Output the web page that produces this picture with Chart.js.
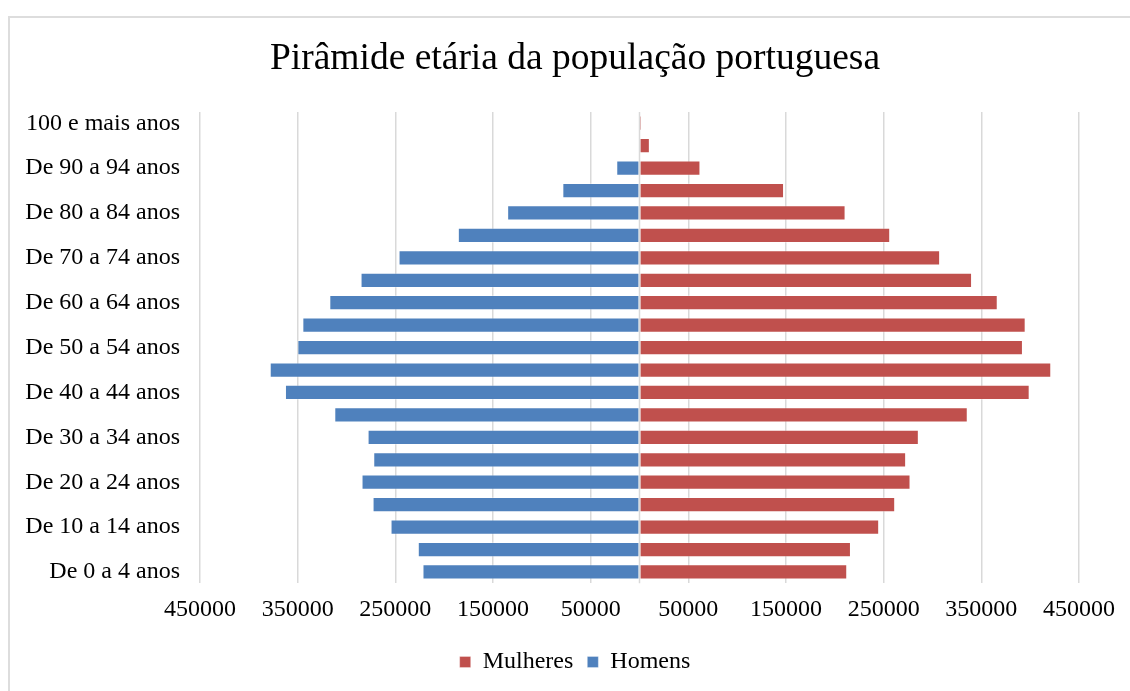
<!DOCTYPE html>
<html>
<head>
<meta charset="utf-8">
<title>Pirâmide etária</title>
<script src="https://cdn.jsdelivr.net/npm/chart.js@4/dist/chart.umd.min.js"></script>
<style>
  html, body { margin: 0; padding: 0; background: #fff; }
  #wrap { position: relative; width: 1130px; height: 691px; overflow: hidden; }
  #frame { position: absolute; left: 8px; top: 16px; width: 1200px; height: 800px;
           border-left: 2px solid #dddddd; border-top: 2px solid #dddddd; pointer-events: none; }
</style>
</head>
<body>
<div id="wrap">
  <canvas id="chart" width="1130" height="691"></canvas>
  <div id="frame"></div>
</div>
<script>
// age groups, bottom to top
const ages = [
  'De 0 a 4 anos', 'De 5 a 9 anos', 'De 10 a 14 anos', 'De 15 a 19 anos',
  'De 20 a 24 anos', 'De 25 a 29 anos', 'De 30 a 34 anos', 'De 35 a 39 anos',
  'De 40 a 44 anos', 'De 45 a 49 anos', 'De 50 a 54 anos', 'De 55 a 59 anos',
  'De 60 a 64 anos', 'De 65 a 69 anos', 'De 70 a 74 anos', 'De 75 a 79 anos',
  'De 80 a 84 anos', 'De 85 a 89 anos', 'De 90 a 94 anos', 'De 95 a 99 anos',
  '100 e mais anos'
];

const mulheres = [
  212700, 216500, 245400, 261800, 277500, 273000, 286000, 336100,
  399500, 421600, 392600, 395400, 366800, 340500, 307800, 256700,
  211000, 148000, 62400, 10600, 2500
];

// men are drawn to the left, so stored as negative values
const homens = [
  -222200, -227000, -254900, -273300, -284600, -272600, -278400, -312500,
  -363000, -378600, -350300, -345200, -317600, -285600, -246700, -186000,
  -135500, -79000, -23800, -1200, -300
];

const xMin = -450000;
const xMax = 450000;
const xStep = 100000;

const serif = 'Liberation Serif, Times New Roman, serif';

// light vertical line at zero (category axis)
const zeroLine = {
  id: 'zeroLine',
  afterDatasetsDraw(chart)
  {
    const x = chart.scales.x.getPixelForValue(0);
    const a = chart.chartArea;
    const ctx = chart.ctx;
    ctx.save();
    ctx.strokeStyle = '#d9d9d9';
    ctx.lineWidth = 1.5;
    ctx.beginPath();
    ctx.moveTo(x, a.top);
    ctx.lineTo(x, a.bottom);
    ctx.stroke();
    ctx.restore();
  }
};

new Chart(document.getElementById('chart'),
{
  type: 'bar',
  data:
  {
    labels: ages,
    datasets:
    [
      {label: 'Mulheres', data: mulheres, backgroundColor: '#c0504d', borderColor: 'rgba(255,255,255,0.3)', borderWidth: 1, borderSkipped: false},
      {label: 'Homens', data: homens, backgroundColor: '#4f81bd', borderColor: 'rgba(255,255,255,0.3)', borderWidth: 1, borderSkipped: false}
    ]
  },
  options:
  {
    indexAxis: 'y',
    responsive: false,
    animation: false,
    devicePixelRatio: 1,
    barPercentage: 0.68,
    categoryPercentage: 1.0,
    layout: {padding: {left: 20, right: 0, top: 16, bottom: 7}},
    scales:
    {
      x:
      {
        stacked: true,
        min: xMin,
        max: xMax,
        ticks:
        {
          stepSize: xStep,
          padding: 12,
          color: '#000',
          font: {family: serif, size: 24},
          maxRotation: 0,
          callback: (v) => String(Math.abs(v))
        },
        grid: {color: '#d9d9d9', lineWidth: 1.5, drawTicks: false},
        border: {display: false}
      },
      y:
      {
        stacked: true,
        reverse: true,
        afterFit: (scale) => { scale.width = 180; },
        ticks:
        {
          autoSkip: false,
          padding: 20,
          color: '#000',
          font: {family: serif, size: 24},
          callback: function(v, i) { return i % 2 == 0 ? this.getLabelForValue(v) : ''; }
        },
        grid: {display: false, drawTicks: false},
        border: {display: false}
      },
      // empty right margin, keeps the title and legend centred like the original
      yRight:
      {
        type: 'category',
        position: 'right',
        afterFit: (scale) => { scale.width = 51; },
        ticks: {display: false},
        grid: {display: false, drawTicks: false},
        border: {display: false}
      }
    },
    plugins:
    {
      title:
      {
        display: true,
        text: 'Pirâmide etária da população portuguesa',
        color: '#000',
        font: {family: serif, size: 37.5, weight: 'normal'},
        padding: {top: 21, bottom: 30}
      },
      legend:
      {
        position: 'bottom',
        labels:
        {
          boxWidth: 11,
          boxHeight: 11,
          padding: 14,
          color: '#000',
          font: {family: serif, size: 24}
        }
      },
      tooltip: {enabled: false}
    }
  },
  plugins: [zeroLine]
});
</script>
</body>
</html>
